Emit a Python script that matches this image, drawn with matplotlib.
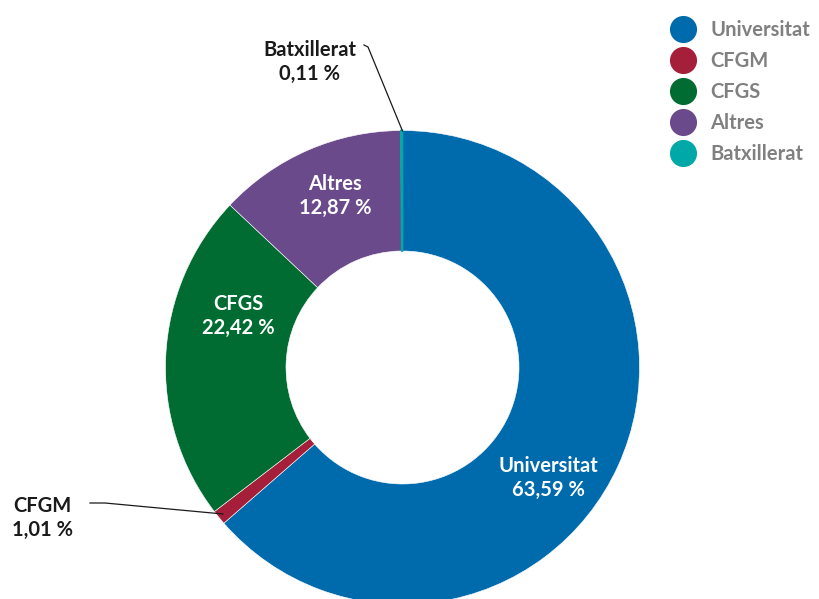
import matplotlib
matplotlib.use("Agg")
import matplotlib.pyplot as plt
from matplotlib.lines import Line2D
import numpy as np

categories = ["Universitat", "CFGM", "CFGS", "Altres", "Batxillerat"]
values = [63.59, 1.01, 22.42, 12.87, 0.11]
value_labels = ["63,59\u202f%", "1,01\u202f%", "22,42\u202f%", "12,87\u202f%", "0,11\u202f%"]
colors = ["#006BAC", "#A51F3A", "#006C32", "#6A4A8B", "#00A9A7"]

plt.rcParams['font.family'] = ['Lato', 'DejaVu Sans']

W, H = 820, 599
fig = plt.figure(figsize=(W / 100, H / 100), dpi=100)
cx, cy, R = 402.5, 367.5, 237.0
ax = fig.add_axes([(cx - R) / W, (H - cy - R) / H, 2 * R / W, 2 * R / H])
wedges, _ = ax.pie(values, colors=colors, startangle=90, counterclock=False,
                   radius=1.0, wedgeprops=dict(width=1 - 116.5 / R, edgecolor="white", linewidth=0.4))
ax.set_xlim(-1, 1)
ax.set_ylim(-1, 1)
ax.set_aspect("equal")
ax.axis("off")
for w in wedges:
    w.set_clip_on(False)
wedges[4].set_edgecolor(colors[4])
wedges[4].set_linewidth(1.2)

def px(x, y):
    return ((x - cx) / R, (cy - y) / R)

fs = 14.5
# inside labels
inside = {0: (548, 478), 2: (238, 316), 3: (335, 196)}
for i, (x, y) in inside.items():
    ax.text(*px(x, y), f"{categories[i]}\n{value_labels[i]}", color="white", fontsize=fs,
            fontweight="bold", ha="center", va="center", linespacing=1.3)

# outside labels
ax.text(*px(310, 62), f"{categories[4]}\n{value_labels[4]}", color="#1a1a1a", fontsize=fs,
        fontweight="bold", ha="center", va="center", linespacing=1.3, clip_on=False)
ax.plot(*zip(px(364, 45), px(368, 47), px(402.5, 131)), color="#1a1a1a", lw=0.9, clip_on=False)
ax.text(*px(42, 518), f"{categories[1]}\n{value_labels[1]}", color="#1a1a1a", fontsize=fs,
        fontweight="bold", ha="center", va="center", linespacing=1.3, clip_on=False)
ax.plot(*zip(px(90, 503), px(105, 503), px(223, 514)), color="#1a1a1a", lw=0.9, clip_on=False)

handles = [Line2D([0], [0], marker="o", linestyle="", markersize=18.5,
                  markerfacecolor=c, markeredgecolor=c) for c in colors]
leg = fig.legend(handles, categories, loc="upper left", bbox_to_anchor=(670 / W, 1 - 20 / H),
                 frameon=False, fontsize=fs, handletextpad=0.7, labelspacing=0.55,
                 handlelength=1.3, borderaxespad=0, borderpad=0)
for t in leg.get_texts():
    t.set_color("#808080")
    t.set_fontweight("bold")

fig.savefig("out.png", dpi=100)
